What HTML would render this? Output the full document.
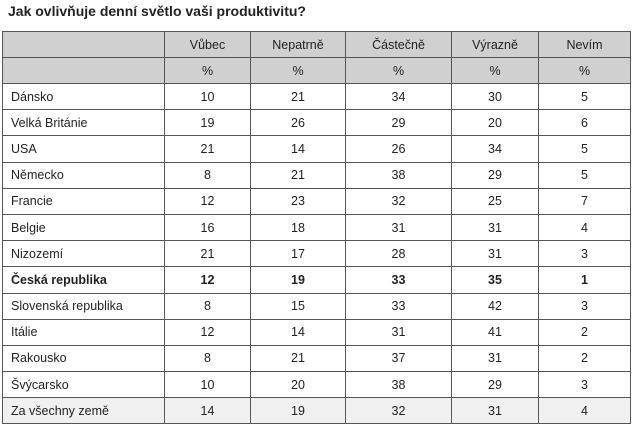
<!DOCTYPE html>
<html><head><meta charset="utf-8"><style>
body{margin:0;width:636px;height:429px;background:#fff;font-family:"Liberation Sans",Arial,sans-serif;overflow:hidden}
.t{position:absolute;left:8px;top:3px;font-size:14px;font-weight:bold;color:#222}
table{position:absolute;left:2px;top:31px;border-collapse:collapse;font-size:12.5px;color:#222}
td{border:1px solid #555;height:25.2px;padding:0;text-align:center}
td:first-child{text-align:left;padding-left:8px;width:153px}
tr.h td{background:#d0d0d0;height:25px}
tr.g td{background:#f0f0f0}
tr.b td{font-weight:bold}
</style></head><body>
<div class="t">Jak ovlivňuje denní světlo vaši produktivitu?</div>
<table>
<colgroup><col style="width:162px"><col style="width:86px"><col style="width:95px"><col style="width:106px"><col style="width:87px"><col style="width:92px"></colgroup>
<tr class="h"><td></td><td>Vůbec</td><td>Nepatrně</td><td>Částečně</td><td>Výrazně</td><td>Nevím</td></tr>
<tr class="h"><td></td><td>%</td><td>%</td><td>%</td><td>%</td><td>%</td></tr>
<tr><td>Dánsko</td><td>10</td><td>21</td><td>34</td><td>30</td><td>5</td></tr>
<tr><td>Velká Británie</td><td>19</td><td>26</td><td>29</td><td>20</td><td>6</td></tr>
<tr><td>USA</td><td>21</td><td>14</td><td>26</td><td>34</td><td>5</td></tr>
<tr><td>Německo</td><td>8</td><td>21</td><td>38</td><td>29</td><td>5</td></tr>
<tr><td>Francie</td><td>12</td><td>23</td><td>32</td><td>25</td><td>7</td></tr>
<tr><td>Belgie</td><td>16</td><td>18</td><td>31</td><td>31</td><td>4</td></tr>
<tr><td>Nizozemí</td><td>21</td><td>17</td><td>28</td><td>31</td><td>3</td></tr>
<tr class="b"><td>Česká republika</td><td>12</td><td>19</td><td>33</td><td>35</td><td>1</td></tr>
<tr><td>Slovenská republika</td><td>8</td><td>15</td><td>33</td><td>42</td><td>3</td></tr>
<tr><td>Itálie</td><td>12</td><td>14</td><td>31</td><td>41</td><td>2</td></tr>
<tr><td>Rakousko</td><td>8</td><td>21</td><td>37</td><td>31</td><td>2</td></tr>
<tr><td>Švýcarsko</td><td>10</td><td>20</td><td>38</td><td>29</td><td>3</td></tr>
<tr class="g"><td>Za všechny země</td><td>14</td><td>19</td><td>32</td><td>31</td><td>4</td></tr>
</table>
</body></html>
